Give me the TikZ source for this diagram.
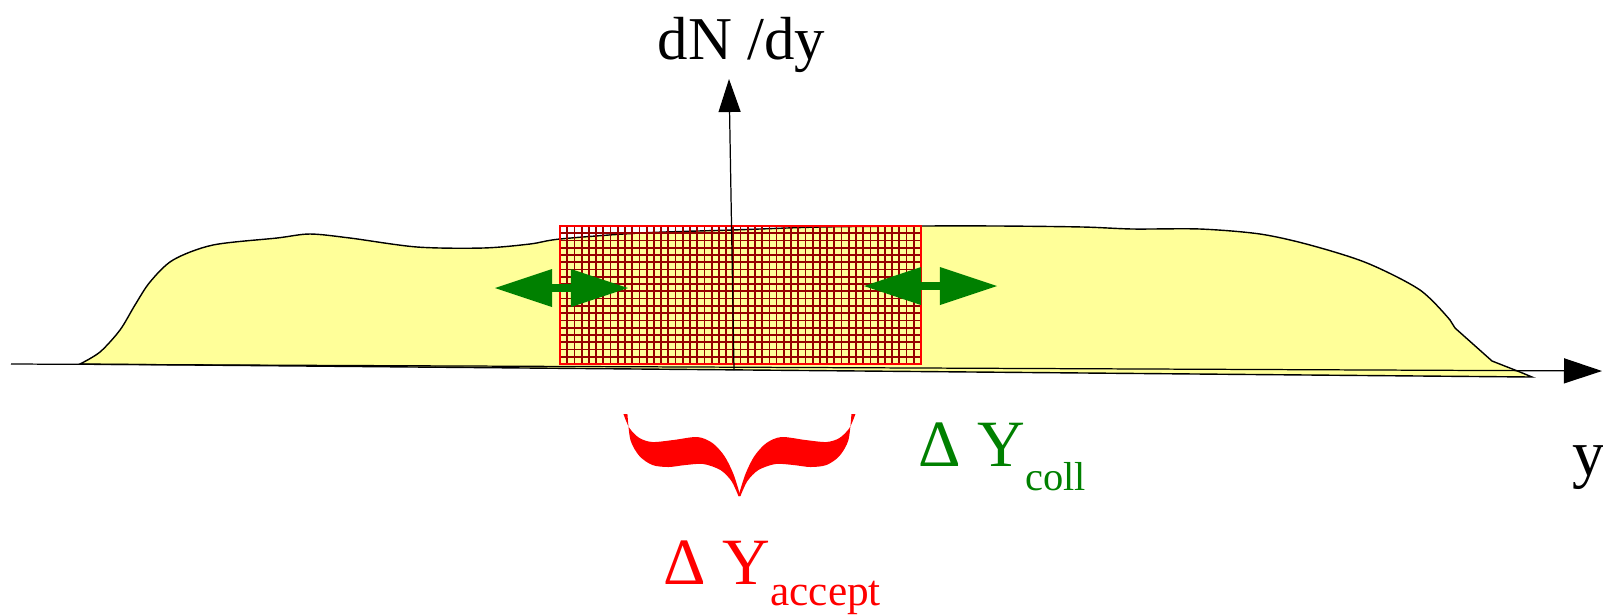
\documentclass[tikz,border=0pt]{standalone}
\usepackage{fontspec}
\setmainfont{Liberation Serif}
\usetikzlibrary{arrows.meta}
\definecolor{SpectrumYellow}{RGB}{255,255,153}
\definecolor{CollGreen}{RGB}{0,128,0}
\definecolor{GridRed}{RGB}{150,0,0}
\definecolor{AcceptRed}{RGB}{255,0,0}

\begin{document}
\begin{tikzpicture}[x=0.01cm,y=-0.01cm,
    every node/.style={inner sep=0pt, anchor=base west},
    axisline/.style={black, line width=0.35pt},
    gridline/.style={GridRed, line width=0.5pt},
    widtharrow/.style={CollGreen, line width=0.08cm,
      {Triangle[length=0.57cm,width=0.38cm,line width=0pt]}-{Triangle[length=0.57cm,width=0.38cm,line width=0pt]}}]
  \useasboundingbox (0,0) rectangle (1603,614);

  \filldraw[fill=SpectrumYellow, draw=black, line width=0.4pt]
    plot[smooth, tension=0.5] coordinates {(80,364) (100,352) (120,330) (135,305) (150,282)
      (173,260) (213,245) (277,238) (310,234) (350,238) (417,247) (483,248) (530,244)
      (560,239) (640,233) (732,230) (820,227) (920,226) (1000,226) (1083,227) (1133,229)
      (1200,229) (1260,234) (1310,245) (1367,263) (1420,290) (1450,320)}
    -- (1455,328) -- (1492,361) -- (1520,372) -- (1532,377) -- cycle;

  \foreach \i in {1,...,49}
    \draw[gridline] ({560+\i*7.22},226) -- ({560+\i*7.22},364);
  \foreach \j in {1,...,18}
    \draw[gridline] (560,{226+\j*7.26}) -- (921,{226+\j*7.26});
  \draw[AcceptRed, line width=0.5pt] (560,226) rectangle (921,364);

  \coordinate (xstart) at (11,364);
  \coordinate (xend) at (1602,371);
  \coordinate (ystart) at (734,370);
  \coordinate (yend) at (729,79);
  \draw[axisline, -{Triangle[length=0.38cm,width=0.25cm]}] (xstart) -- (xend);
  \draw[axisline, -{Triangle[length=0.33cm,width=0.22cm]}] (ystart) -- (yend);

  \coordinate (leftout) at (495,288);
  \coordinate (leftin) at (628,288);
  \coordinate (rightin) at (864,286);
  \coordinate (rightout) at (997,286);
  \draw[widtharrow] (leftout) -- (leftin);
  \draw[widtharrow] (rightin) -- (rightout);

  \foreach \s in {1,-1}{
    \begin{scope}[xshift=7.39cm, xscale=\s]
      \fill[AcceptRed]
        plot[smooth, tension=0.5] coordinates {(-116,414) (-110,428) (-100,438) (-87,442)
          (-66,440) (-42,437) (-27,443) (-15,456) (-6,474) (1,496)}
        -- plot[smooth, tension=0.5] coordinates {(-1,496) (-8,481) (-19,470) (-36,464)
          (-54,465) (-71,467) (-87,465) (-100,456) (-109,440) (-112,414)}
        -- cycle;
    \end{scope}
  }

  \node (dndy) at (657,59) {\fontsize{17.3}{20}\selectfont dN /dy};
  \node (yaxis) at (1572,475) {\fontsize{18.5}{22}\selectfont y};
  \node[text=CollGreen] (dycoll) at (918,466)
    {\fontsize{18.8}{22}\selectfont Δ Y\raisebox{-0.24cm}{\fontsize{11.5}{14}\selectfont coll}};
  \node[text=AcceptRed] (dyaccept) at (663,584)
    {\fontsize{18.8}{22}\selectfont Δ Y\raisebox{-0.21cm}{\fontsize{12.3}{14}\selectfont accept}};
\end{tikzpicture}
\end{document}
